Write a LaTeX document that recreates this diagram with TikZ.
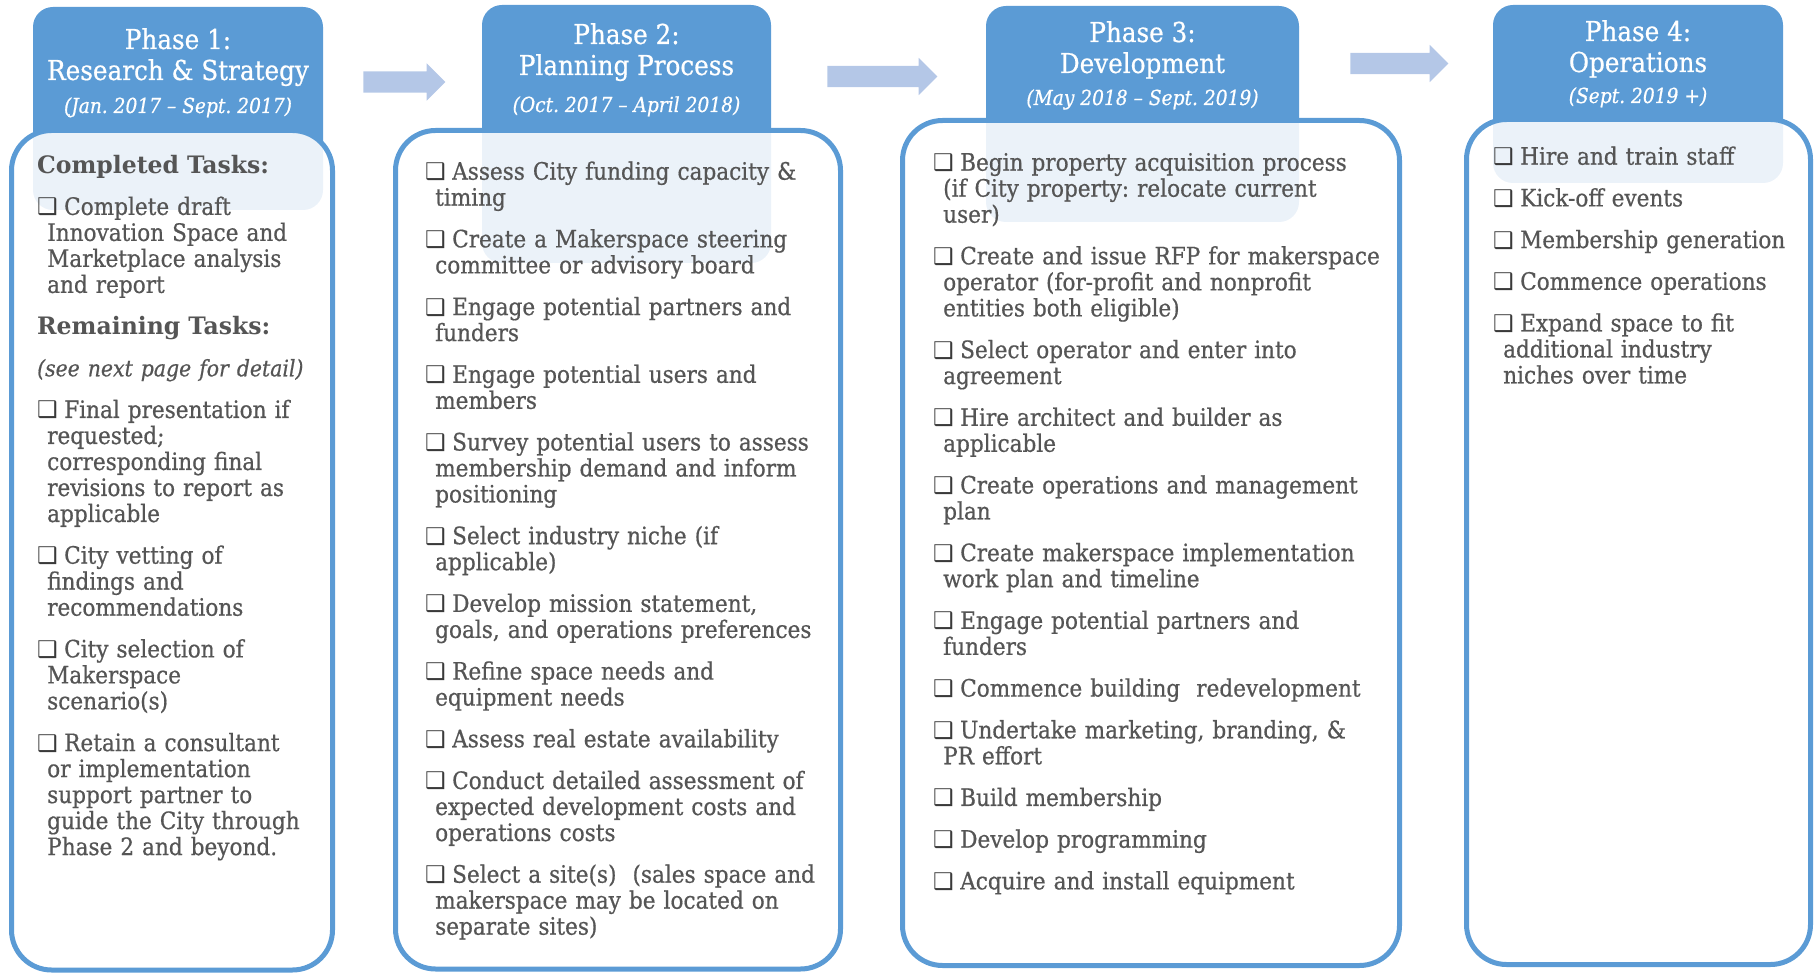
\documentclass[tikz,border=0pt]{standalone}
\usepackage{fontspec}
\setmainfont{DejaVu Serif}[FakeStretch=0.9, FakeBold=0.6]
\newfontfamily\headfont{DejaVu Serif}[FakeStretch=0.98]
\newfontfamily\cbxfont{DejaVu Sans}
\usetikzlibrary{shapes.arrows}
\definecolor{phaseblue}{HTML}{5B9BD5}
\definecolor{arrowblue}{HTML}{B4C7E7}
\definecolor{taskgray}{HTML}{555555}
\definecolor{cbxgray}{HTML}{3A3A3A}
\frenchspacing
\newcommand{\cbx}{\makebox[27pt][l]{\cbxfont\fontsize{23}{23}\selectfont\color{cbxgray}\symbol{"2751}}}
\newcommand{\task}{\par\parskip=15.7pt\lineskiplimit=-20pt\hangindent=10pt\hangafter=1\noindent\cbx}
\newcommand{\tasklabel}[1]{\par\parskip=15.7pt\lineskiplimit=-20pt\noindent#1}
\tikzset{
  headbox/.style={ fill=phaseblue, rounded corners=20pt, inner sep=0pt }
}
\tikzset{
  taskbox/.style={ draw=phaseblue, line width=5pt, fill=white, fill opacity=0.88, rounded corners=40pt, inner sep=0pt }
}
\tikzset{
  phasetitle/.style={ text=white, align=center, anchor=base, inner sep=0pt, font=\fontsize{27.4}{31}\selectfont }
}
\tikzset{
  phasedate/.style={ text=white, anchor=base, inner sep=0pt, font=\fontsize{20.7}{24}\selectfont\itshape }
}
\tikzset{
  tasklist/.style={ text=taskgray, anchor=base west, inner sep=0pt, font=\fontsize{24}{26}\selectfont }
}
\tikzset{
  phasearrow/.style={ single arrow, fill=arrowblue, inner xsep=0pt, inner ysep=10.5pt, single arrow head extend=8pt, single arrow tip angle=90 }
}

\begin{document}
\begin{tikzpicture}[x=1pt, y=-1pt]
      \useasboundingbox (0,0) rectangle (1818,973);
      % header tabs
      \node[headbox, minimum width=290pt, minimum height=203pt] (head1) at (178,108.5) {};
      \node[headbox, minimum width=289pt, minimum height=258pt] (head2) at (626.5,134) {};
      \node[headbox, minimum width=313pt, minimum height=216pt] (head3) at (1142.5,114) {};
      \node[headbox, minimum width=290pt, minimum height=178pt] (head4) at (1638,94) {};
      % task boxes (drawn over the tabs)
      \node[taskbox, minimum width=321pt, minimum height=839.5pt] (box1) at (172,550.25) {};
      \node[taskbox, minimum width=445pt, minimum height=838.5pt] (box2) at (618,549.75) {};
      \node[taskbox, minimum width=497pt, minimum height=845pt] (box3) at (1151,543) {};
      \node[taskbox, minimum width=344pt, minimum height=845pt] (box4) at (1638.5,542) {};
      % arrows between phases
      \node[phasearrow, minimum height=82pt] (arr1) at (399,82) {};
      \node[phasearrow, minimum height=110pt] (arr2) at (877,76.5) {};
      \node[phasearrow, minimum height=98pt] (arr3) at (1394,63.5) {};
      % titles (base = last line)
      \node[phasetitle] (title1) at (178,80) {Phase 1:\\Research \& Strategy};
      \node[phasedate] (date1) at (178,113) {(Jan. 2017 – Sept. 2017)};
      \node[phasetitle] (title2) at (626.5,75) {Phase 2:\\Planning Process};
      \node[phasedate] (date2) at (626.5,112) {(Oct. 2017 – April 2018)};
      \node[phasetitle] (title3) at (1142.5,73) {Phase 3:\\Development};
      \node[phasedate] (date3) at (1142.5,105) {(May 2018 – Sept. 2019)};
      \node[phasetitle] (title4) at (1638,72) {Phase 4:\\Operations};
      \node[phasedate] (date4) at (1638,103) {(Sept. 2019 +)};
      % task lists (node base sits ~39pt above the first line)
      \node[tasklist, text width=290pt] (list1) at (37,131.5) {%
        \tasklabel{{\headfont\bfseries Completed Tasks:}}
        \task Complete draft\newline Innovation Space and\newline Marketplace analysis\newline and report
        \tasklabel{{\headfont\bfseries Remaining Tasks:}}
        \tasklabel{{\fontsize{22.7}{26}\selectfont\itshape (see next page for detail)}}
        \task Final presentation if\newline requested;\newline corresponding final\newline revisions to report as\newline applicable
        \task City vetting of\newline findings and\newline recommendations
        \task City selection of\newline Makerspace\newline scenario(s)
        \task Retain a consultant\newline or implementation\newline support partner to\newline guide the City through\newline Phase 2 and beyond.\par};
      \node[tasklist, text width=410pt] (list2) at (425,138) {%
        \task Assess City funding capacity \&\newline timing
        \task Create a Makerspace steering\newline committee or advisory board
        \task Engage potential partners and\newline funders
        \task Engage potential users and\newline members
        \task Survey potential users to assess\newline membership demand and inform\newline positioning
        \task Select industry niche (if\newline applicable)
        \task Develop mission statement,\newline goals, and operations preferences
        \task Refine space needs and\newline equipment needs
        \task Assess real estate availability
        \task Conduct detailed assessment of\newline expected development costs and\newline operations costs
        \task Select a site(s)\ \ (sales space and\newline makerspace may be located on\newline separate sites)\par};
      \node[tasklist, text width=460pt] (list3) at (933,129) {%
        \task Begin property acquisition process\newline (if City property: relocate current\newline user)
        \task Create and issue RFP for makerspace\newline operator (for-profit and nonprofit\newline entities both eligible)
        \task Select operator and enter into\newline agreement
        \task Hire architect and builder as\newline applicable
        \task Create operations and management\newline plan
        \task Create makerspace implementation\newline work plan and timeline
        \task Engage potential partners and\newline funders
        \task Commence building\ \ redevelopment
        \task Undertake marketing, branding, \&\newline PR effort
        \task Build membership
        \task Develop programming
        \task Acquire and install equipment\par};
      \node[tasklist, text width=312pt] (list4) at (1493,123) {%
        \task Hire and train staff
        \task Kick-off events
        \task Membership generation
        \task Commence operations
        \task Expand space to fit\newline additional industry\newline niches over time\par};
    \end{tikzpicture}
\end{document}
